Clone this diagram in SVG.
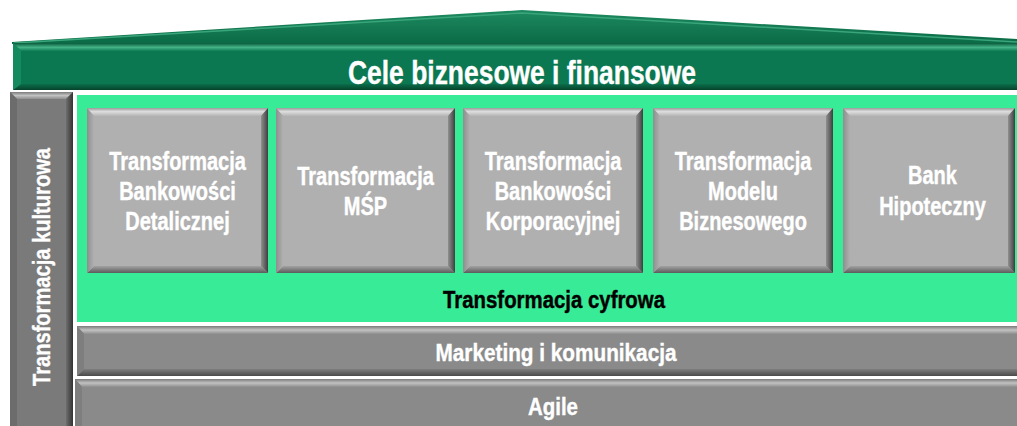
<svg xmlns="http://www.w3.org/2000/svg" width="1017" height="426" viewBox="0 0 1017 426">
<defs>
<linearGradient id="bTop" x1="0" y1="0" x2="0" y2="1"><stop offset="0" stop-color="#9a9a9a"/><stop offset="0.45" stop-color="#dedede"/><stop offset="1" stop-color="#b4b4b4"/></linearGradient>
<linearGradient id="bBot" x1="0" y1="0" x2="0" y2="1"><stop offset="0" stop-color="#a2a2a2"/><stop offset="1" stop-color="#5c5c5c"/></linearGradient>
<linearGradient id="bRight" x1="0" y1="0" x2="1" y2="0"><stop offset="0" stop-color="#909090"/><stop offset="1" stop-color="#3e3e3e"/></linearGradient>
<linearGradient id="bLeft" x1="0" y1="0" x2="1" y2="0"><stop offset="0" stop-color="#8e8e8e"/><stop offset="1" stop-color="#b0b0b0"/></linearGradient>
<linearGradient id="sTop" x1="0" y1="0" x2="0" y2="1"><stop offset="0" stop-color="#7a7a7a"/><stop offset="0.5" stop-color="#c2c2c2"/><stop offset="1" stop-color="#8e8e8e"/></linearGradient>
<linearGradient id="sBot" x1="0" y1="0" x2="0" y2="1"><stop offset="0" stop-color="#7e7e7e"/><stop offset="1" stop-color="#4a4a4a"/></linearGradient>
<linearGradient id="sRight" x1="0" y1="0" x2="1" y2="0"><stop offset="0" stop-color="#6e6e6e"/><stop offset="1" stop-color="#333333"/></linearGradient>
<linearGradient id="gTop" x1="0" y1="0" x2="0" y2="1"><stop offset="0" stop-color="#0a5a3c"/><stop offset="0.55" stop-color="#44b487"/><stop offset="1" stop-color="#0e7c55"/></linearGradient>
<linearGradient id="gBot" x1="0" y1="0" x2="0" y2="1"><stop offset="0" stop-color="#0b6e4b"/><stop offset="1" stop-color="#05432b"/></linearGradient>
<linearGradient id="gRoof" x1="0" y1="0" x2="0" y2="1"><stop offset="0" stop-color="#1e8a60"/><stop offset="1" stop-color="#0a6a46"/></linearGradient>
</defs>
<style>
.box{fill:#b0b0b0}
.wt{font-family:"Liberation Sans",Arial,sans-serif;font-weight:bold;fill:#ffffff;stroke:#ffffff;stroke-width:0.4px;text-anchor:middle}
.bt{font-family:"Liberation Sans",Arial,sans-serif;font-weight:bold;fill:#000000;stroke:#000000;stroke-width:0.4px;text-anchor:middle}
.bx{font-size:25px}
</style>
<rect width="1017" height="426" fill="#ffffff"/>

<g id="roof">
<polygon points="12,42 522,10 1017,39 1017,44 12,44" fill="url(#gRoof)"/>
<polyline points="14,43 522,13 1017,42" fill="none" stroke="#3aa57b" stroke-width="1.5"/>
</g>

<g id="cele">
<rect x="13" y="43" width="1004" height="47" fill="#0b7852"/>
<polygon points="13,43 1017,43 1017,51 21,51" fill="url(#gTop)"/>
<polygon points="13,90 1017,90 1017,84 21,84" fill="url(#gBot)"/>
<polygon points="13,43 21,51 21,84 13,90" fill="#138a5f"/>
<text class="wt" x="522" y="84" font-size="34" textLength="348" lengthAdjust="spacingAndGlyphs">Cele biznesowe i finansowe</text>
</g>

<g id="kultura">
<rect x="10" y="92" width="63" height="334" fill="#7a7a7a"/>
<polygon points="10,92 73,92 66,99 17,99" fill="url(#sTop)"/>
<polygon points="73,92 73,426 66,426 66,99" fill="url(#sRight)"/>
<polygon points="10,92 17,99 17,426 10,426" fill="#6c6c6c"/>
<text class="wt" transform="translate(50 267) rotate(-90)" x="0" y="0" font-size="24" textLength="238" lengthAdjust="spacingAndGlyphs">Transformacja kulturowa</text>
</g>

<g id="cyfrowa">
<rect x="77" y="95" width="940" height="227" fill="#38eb96"/>
<text class="bt" x="554" y="308" font-size="23" textLength="222" lengthAdjust="spacingAndGlyphs">Transformacja cyfrowa</text>
</g>

<g id="box1">
<rect class="box" x="87" y="108" width="181" height="165"/>
<polygon points="87,108 268,108 261,116 94,116" fill="url(#bTop)"/>
<polygon points="87,273 268,273 261,266 94,266" fill="url(#bBot)"/>
<polygon points="87,108 94,116 94,266 87,273" fill="url(#bLeft)"/>
<polygon points="268,108 268,273 261,266 261,116" fill="url(#bRight)"/>
<g transform="translate(177.5 0) scale(0.8 1)">
<text class="wt bx" x="0" y="170">Transformacja</text>
<text class="wt bx" x="0" y="200">Bankowości</text>
<text class="wt bx" x="0" y="230">Detalicznej</text>
</g>
</g>

<g id="box2">
<rect class="box" x="276" y="108" width="179" height="165"/>
<polygon points="276,108 455,108 448,116 283,116" fill="url(#bTop)"/>
<polygon points="276,273 455,273 448,266 283,266" fill="url(#bBot)"/>
<polygon points="276,108 283,116 283,266 276,273" fill="url(#bLeft)"/>
<polygon points="455,108 455,273 448,266 448,116" fill="url(#bRight)"/>
<g transform="translate(365.5 0) scale(0.8 1)">
<text class="wt bx" x="0" y="185">Transformacja</text>
<text class="wt bx" x="0" y="215">MŚP</text>
</g>
</g>

<g id="box3">
<rect class="box" x="463" y="108" width="180" height="165"/>
<polygon points="463,108 643,108 636,116 470,116" fill="url(#bTop)"/>
<polygon points="463,273 643,273 636,266 470,266" fill="url(#bBot)"/>
<polygon points="463,108 470,116 470,266 463,273" fill="url(#bLeft)"/>
<polygon points="643,108 643,273 636,266 636,116" fill="url(#bRight)"/>
<g transform="translate(553 0) scale(0.8 1)">
<text class="wt bx" x="0" y="170">Transformacja</text>
<text class="wt bx" x="0" y="200">Bankowości</text>
<text class="wt bx" x="0" y="230">Korporacyjnej</text>
</g>
</g>

<g id="box4">
<rect class="box" x="653" y="108" width="180" height="165"/>
<polygon points="653,108 833,108 826,116 660,116" fill="url(#bTop)"/>
<polygon points="653,273 833,273 826,266 660,266" fill="url(#bBot)"/>
<polygon points="653,108 660,116 660,266 653,273" fill="url(#bLeft)"/>
<polygon points="833,108 833,273 826,266 826,116" fill="url(#bRight)"/>
<g transform="translate(743 0) scale(0.8 1)">
<text class="wt bx" x="0" y="170">Transformacja</text>
<text class="wt bx" x="0" y="200">Modelu</text>
<text class="wt bx" x="0" y="230">Biznesowego</text>
</g>
</g>

<g id="box5">
<rect class="box" x="843" y="108" width="172" height="165"/>
<polygon points="843,108 1015,108 1008,116 850,116" fill="url(#bTop)"/>
<polygon points="843,273 1015,273 1008,266 850,266" fill="url(#bBot)"/>
<polygon points="843,108 850,116 850,266 843,273" fill="url(#bLeft)"/>
<polygon points="1015,108 1015,273 1008,266 1008,116" fill="url(#bRight)"/>
<g transform="translate(932.5 0) scale(0.8 1)">
<text class="wt bx" x="0" y="184">Bank</text>
<text class="wt bx" x="0" y="215">Hipoteczny</text>
</g>
</g>

<g id="marketing">
<rect x="77" y="326" width="940" height="50" fill="#8a8a8a"/>
<polygon points="77,326 1017,326 1017,334 84,334" fill="url(#sTop)"/>
<polygon points="77,376 1017,376 1017,369 84,369" fill="url(#sBot)"/>
<polygon points="77,326 84,334 84,369 77,376" fill="#7e7e7e"/>
<text class="wt" x="556" y="361" font-size="24" textLength="241" lengthAdjust="spacingAndGlyphs">Marketing i komunikacja</text>
</g>

<g id="agile">
<rect x="75" y="379" width="942" height="47" fill="#8a8a8a"/>
<polygon points="75,379 1017,379 1017,387 82,387" fill="url(#sTop)"/>
<polygon points="75,379 82,387 82,426 75,426" fill="#7e7e7e"/>
<text class="wt" x="553" y="415" font-size="24" textLength="50" lengthAdjust="spacingAndGlyphs">Agile</text>
</g>

<g id="connectors"/>
</svg>
